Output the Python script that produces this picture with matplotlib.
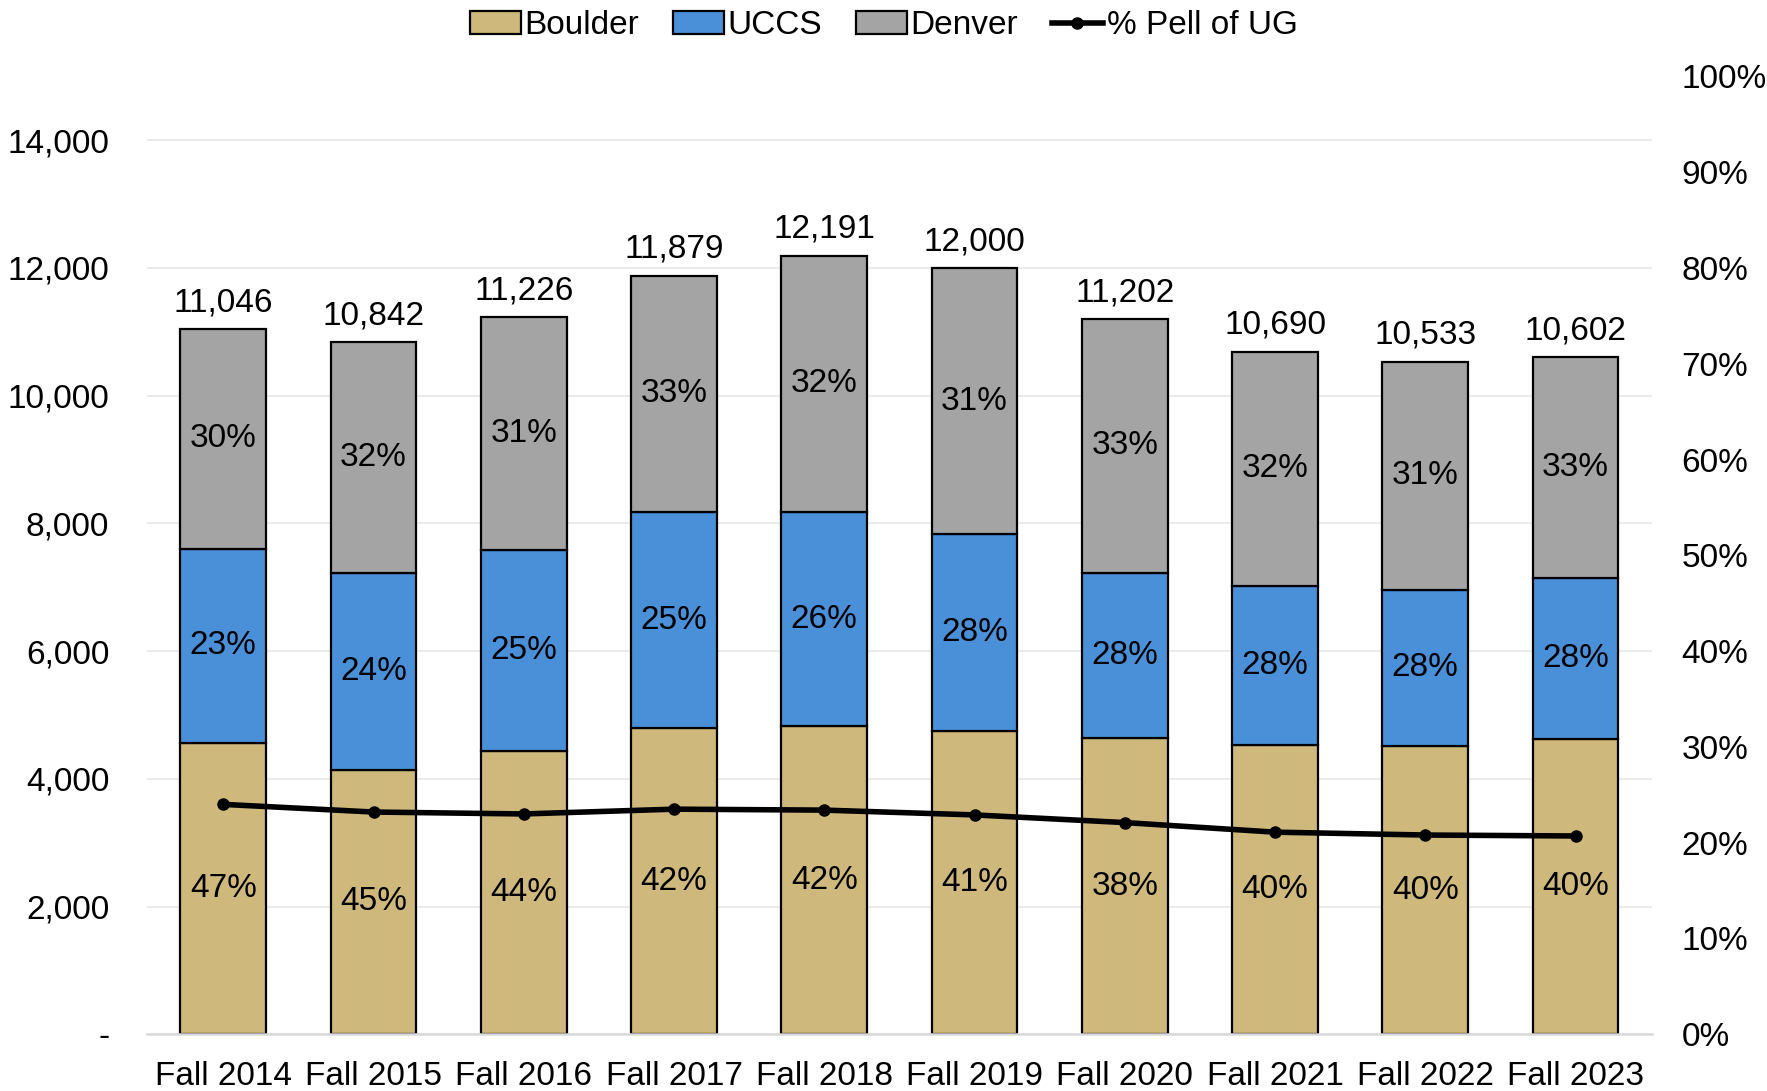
import numpy as np
import matplotlib
matplotlib.use("Agg")
from matplotlib import pyplot as plt
from matplotlib.patches import Patch
from matplotlib.lines import Line2D
from matplotlib.ticker import FuncFormatter

plt.rcParams['font.family'] = ['Liberation Sans', 'DejaVu Sans']

terms = ["Fall 2014", "Fall 2015", "Fall 2016", "Fall 2017", "Fall 2018",
         "Fall 2019", "Fall 2020", "Fall 2021", "Fall 2022", "Fall 2023"]
totals = [11046, 10842, 11226, 11879, 12191, 12000, 11202, 10690, 10533, 10602]
boulder = [4561, 4143, 4430, 4790, 4821, 4754, 4633, 4535, 4508, 4624]
uccs = [3041, 3077, 3150, 3386, 3361, 3077, 2597, 2492, 2456, 2517]
denver = [t - b - u for t, b, u in zip(totals, boulder, uccs)]
pell_pct = [24.0, 23.2, 23.0, 23.5, 23.4, 22.9, 22.1, 21.1, 20.8, 20.7]

boulder_lbl = ["47%", "45%", "44%", "42%", "42%", "41%", "38%", "40%", "40%", "40%"]
uccs_lbl = ["23%", "24%", "25%", "25%", "26%", "28%", "28%", "28%", "28%", "28%"]
denver_lbl = ["30%", "32%", "31%", "33%", "32%", "31%", "33%", "32%", "31%", "33%"]

c_boulder = "#CFB87C"
c_uccs = "#4A90D9"
c_denver = "#A3A4A3"

fig = plt.figure(figsize=(17.67, 10.91), dpi=100)
ax = fig.add_axes([0.083, 0.052, 0.852, 0.878])
x = np.arange(len(terms))
w = 0.57
ec = dict(edgecolor="black", linewidth=1.6)

ax.bar(x, boulder, w, color=c_boulder, zorder=2, **ec)
ax.bar(x, uccs, w, bottom=boulder, color=c_uccs, zorder=2, **ec)
cum = np.array(boulder) + np.array(uccs)
ax.bar(x, denver, w, bottom=cum, color=c_denver, zorder=2, **ec)

fs = 24
for i in range(len(x)):
    ax.text(x[i], boulder[i] / 2, boulder_lbl[i], ha="center", va="center", fontsize=fs, zorder=4)
    ax.text(x[i], boulder[i] + uccs[i] / 2, uccs_lbl[i], ha="center", va="center", fontsize=fs, zorder=4)
    ax.text(x[i], cum[i] + denver[i] / 2, denver_lbl[i], ha="center", va="center", fontsize=fs, zorder=4)
    ax.text(x[i], totals[i] + 170, f"{totals[i]:,}", ha="center", va="bottom", fontsize=fs, zorder=4)

ax.set_xlim(-0.51, 9.51)
ax.set_ylim(0, 15000)
ax.set_yticks(np.arange(0, 14001, 2000))
ax.yaxis.set_major_formatter(FuncFormatter(lambda v, p: "-" if v == 0 else f"{int(v):,}"))
ax.set_xticks(x)
ax.set_xticklabels(terms)
ax.tick_params(axis="both", length=0, labelsize=fs)
ax.tick_params(axis="y", pad=27)
ax.tick_params(axis="x", pad=19)
ax.grid(axis="y", color="#EBEBEB", linewidth=1.5, zorder=0)
ax.set_axisbelow(True)
for s in ["top", "right", "left"]:
    ax.spines[s].set_visible(False)
ax.spines["bottom"].set_color("#D9D9D9")
ax.spines["bottom"].set_linewidth(1.8)

ax2 = ax.twinx()
ax2.plot(x, pell_pct, color="black", linewidth=4, marker="o", markersize=8, zorder=5)
ax2.set_ylim(0, 100)
ax2.set_yticks(np.arange(0, 101, 10))
ax2.yaxis.set_major_formatter(FuncFormatter(lambda v, p: f"{int(v)}%"))
ax2.tick_params(axis="y", length=0, labelsize=fs, pad=21)
for s in ["top", "right", "left", "bottom"]:
    ax2.spines[s].set_visible(False)

handles = [Patch(facecolor=c_boulder, edgecolor="black", linewidth=1.6, label="Boulder"),
           Patch(facecolor=c_uccs, edgecolor="black", linewidth=1.6, label="UCCS"),
           Patch(facecolor=c_denver, edgecolor="black", linewidth=1.6, label="Denver"),
           Line2D([0], [0], color="black", linewidth=4, marker="o", markersize=8, label="% Pell of UG")]
fig.legend(handles=handles, loc="upper center", bbox_to_anchor=(0.5, 1.018), ncol=4, frameon=False,
           fontsize=fs, handlelength=1.55, handletextpad=0.1, columnspacing=1.0)

fig.savefig("out.png", dpi=100)
